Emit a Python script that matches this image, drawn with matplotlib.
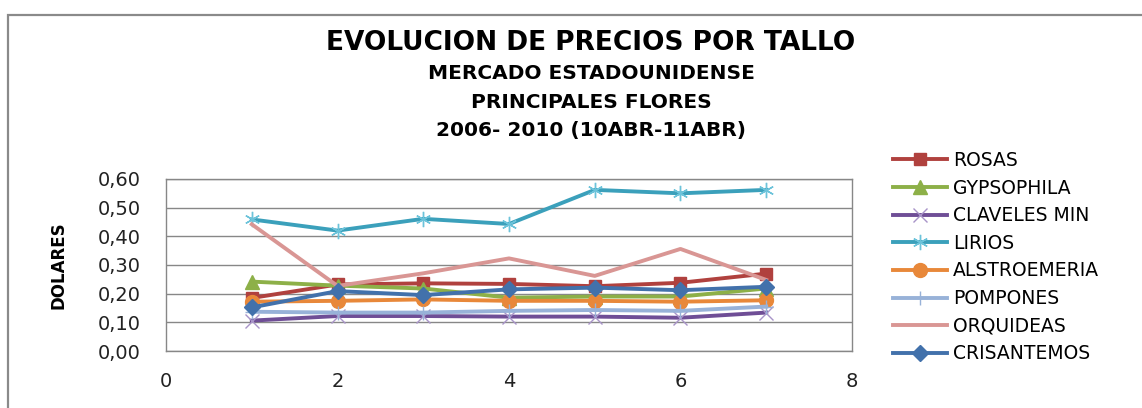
import matplotlib
matplotlib.use("Agg")
import matplotlib.pyplot as plt
from matplotlib.patches import Rectangle

# Data
periods = [1, 2, 3, 4, 5, 6, 7]
rosas = [0.185, 0.232, 0.236, 0.234, 0.226, 0.238, 0.270]
gypsophila = [0.242, 0.228, 0.218, 0.186, 0.190, 0.190, 0.218]
claveles_min = [0.106, 0.122, 0.122, 0.120, 0.120, 0.116, 0.134]
lirios = [0.459, 0.420, 0.461, 0.443, 0.562, 0.550, 0.562]
alstroemeria = [0.172, 0.175, 0.180, 0.175, 0.175, 0.172, 0.177]
pompones = [0.137, 0.134, 0.134, 0.140, 0.143, 0.140, 0.155]
orquideas = [0.442, 0.227, 0.271, 0.323, 0.262, 0.356, 0.248]
crisantemos = [0.152, 0.209, 0.195, 0.215, 0.221, 0.212, 0.224]

y_ticks = [0.0, 0.1, 0.2, 0.3, 0.4, 0.5, 0.6]
x_ticks = [0, 2, 4, 6, 8]

plt.rcParams['font.family'] = ['DejaVu Sans']

fig = plt.figure(figsize=(11.42, 4.08), dpi=100)
ax = fig.add_axes([0.1454, 0.1397, 0.6006, 0.4216])

# outer chart border (runs off the right and bottom edge)
fig.patches.append(Rectangle((8 / 1142, -0.1), 1.2, 1.1 - 15 / 408,
                             transform=fig.transFigure, fill=False,
                             edgecolor='#8a8a8a', linewidth=1.6))

lw = 2.8
ax.plot(periods, rosas, color='#b0413e', lw=lw, marker='s', ms=9, label='ROSAS')
ax.plot(periods, gypsophila, color='#8db048', lw=lw, marker='^', ms=10, label='GYPSOPHILA')
ax.plot(periods, claveles_min, color='#6f4e96', lw=lw, marker='x', ms=10,
        mec='#a894c8', mew=1.0, label='CLAVELES MIN')
ax.plot(periods, lirios, color='#3ba0bb', lw=lw, marker=(6, 2, 0), ms=11,
        mec='#6cc3da', mew=1.0, label='LIRIOS')
ax.plot(periods, alstroemeria, color='#e8883a', lw=lw, marker='o', ms=10, label='ALSTROEMERIA')
ax.plot(periods, pompones, color='#98b2d8', lw=lw, marker='+', ms=10,
        mec='#98b2d8', mew=1.0, label='POMPONES')
ax.plot(periods, orquideas, color='#d99694', lw=lw, label='ORQUIDEAS')
ax.plot(periods, crisantemos, color='#4271ab', lw=lw, marker='D', ms=8, label='CRISANTEMOS')

ax.set_xlim(0, 8)
ax.set_ylim(0, 0.6)
ax.set_xticks(x_ticks)
ax.set_yticks(y_ticks)
ax.set_yticklabels([f"{v:.2f}".replace('.', ',') for v in y_ticks])
ax.tick_params(length=0, labelsize=14, colors='#222222')
ax.tick_params(axis='y', pad=18)
ax.tick_params(axis='x', pad=15)
ax.grid(axis='y', color='#878787', lw=1.0)
ax.set_axisbelow(True)
for s in ax.spines.values():
    s.set_color('#878787')
    s.set_linewidth(1.0)

fig.text(0.051, 0.35, 'DOLARES', rotation=90, ha='center', va='center',
         fontsize=12, fontweight='bold', family=['Liberation Sans Narrow', 'DejaVu Sans'])

fig.text(0.5176, 0.895, 'EVOLUCION DE PRECIOS POR TALLO', ha='center', va='center',
         fontsize=19, fontweight='bold')
for txt, yy in [('MERCADO ESTADOUNIDENSE', 0.819), ('PRINCIPALES FLORES', 0.750),
                ('2006- 2010 (10ABR-11ABR)', 0.679)]:
    fig.text(0.5176, yy, txt, ha='center', va='center', fontsize=14.5, fontweight='bold')

ax.legend(loc='upper left', bbox_to_anchor=(893 / 1142, 1 - 151 / 408),
          bbox_transform=fig.transFigure, frameon=False, fontsize=13.5,
          borderpad=0, borderaxespad=0, handlelength=2.9, handletextpad=0.3,
          labelspacing=0.46)

fig.savefig('out.png', dpi=100)
